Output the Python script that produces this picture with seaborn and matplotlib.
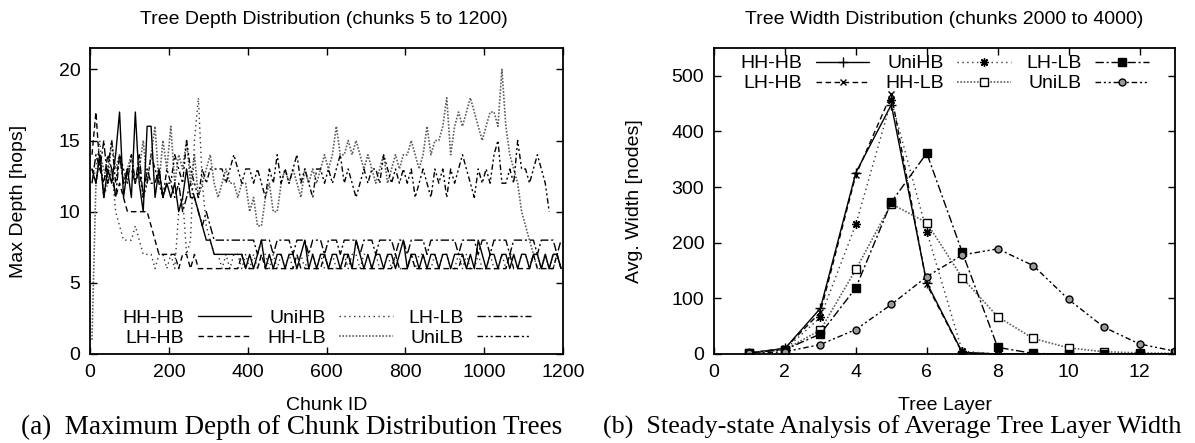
import numpy as np
import pandas as pd
import matplotlib
matplotlib.use("Agg")
import matplotlib.pyplot as plt
import seaborn as sns
from matplotlib.lines import Line2D

# ---------------- data: (a) maximum depth per chunk ----------------
chunk_ids = list(range(5, 1200, 10))

depth_hh_hb = [13, 12, 14, 11, 13, 12, 14, 17, 11, 13,
               11, 17, 12, 10, 16, 16, 11, 13, 11, 12,
               11, 12, 10, 11, 13, 11, 11, 10, 9, 8,
               8, 7, 7, 7, 7, 7, 7, 7, 7, 6,
               7, 6, 7, 8, 6, 7, 6, 7, 7, 6,
               7, 7, 6, 7, 8, 6, 7, 6, 7, 7,
               6, 7, 7, 6, 7, 7, 6, 8, 7, 6,
               7, 6, 7, 7, 6, 7, 7, 6, 7, 8,
               6, 7, 7, 6, 7, 6, 7, 7, 6, 7,
               7, 6, 7, 7, 7, 6, 7, 6, 8, 7,
               6, 7, 7, 6, 7, 7, 6, 7, 6, 7,
               7, 6, 7, 7, 6, 7, 6, 7, 7, 6]

depth_lh_hb = [14, 17, 13, 12, 14, 13, 11, 12, 11, 10,
               10, 10, 10, 10, 10, 9, 8, 7, 7, 7,
               7, 7, 6, 7, 7, 6, 7, 6, 6, 6,
               6, 6, 6, 6, 6, 6, 6, 6, 7, 6,
               6, 6, 6, 7, 6, 6, 6, 6, 6, 6,
               6, 6, 7, 6, 6, 6, 6, 6, 6, 7,
               6, 6, 6, 6, 6, 7, 6, 6, 6, 6,
               6, 6, 6, 6, 6, 6, 6, 7, 6, 6,
               6, 7, 6, 6, 6, 6, 6, 6, 6, 6,
               6, 6, 6, 6, 7, 6, 6, 6, 6, 6,
               6, 6, 6, 6, 6, 6, 7, 6, 6, 6,
               6, 6, 7, 6, 6, 6, 6, 6, 7, 6]

depth_unihb = [12, 13, 15, 11, 12, 13, 10, 9, 8, 8,
               8, 9, 8, 7, 7, 7, 6, 7, 7, 6,
               7, 6, 10, 11, 7, 8, 15, 18, 12, 9,
               8, 7, 7, 6, 7, 6, 7, 7, 6, 7,
               6, 7, 6, 7, 7, 6, 7, 6, 7, 6,
               7, 6, 6, 7, 6, 7, 7, 6, 7, 6,
               6, 7, 6, 6, 7, 6, 7, 7, 6, 7,
               7, 6, 7, 6, 6, 7, 6, 7, 6, 6,
               6, 7, 6, 7, 7, 6, 6, 7, 6, 7,
               7, 6, 6, 7, 6, 7, 6, 6, 7, 6,
               6, 7, 6, 6, 7, 6, 7, 7, 6, 7,
               7, 6, 7, 6, 6, 7, 6, 6, 7, 6]

depth_hh_lb = [1, 12, 14, 13, 12, 15, 13, 14, 12, 13,
               14, 12, 13, 15, 12, 14, 16, 12, 15, 13,
               16, 12, 14, 13, 15, 12, 14, 11, 12, 13,
               14, 12, 11, 12, 13, 12, 12, 11, 12, 12,
               10, 11, 9, 9, 11, 12, 10, 10, 12, 13,
               12, 13, 12, 11, 13, 12, 13, 12, 13, 14,
               13, 14, 16, 14, 14, 15, 14, 15, 14, 13,
               14, 13, 12, 13, 14, 12, 13, 14, 13, 14,
               14, 15, 14, 13, 14, 16, 14, 15, 15, 16,
               18, 14, 16, 17, 16, 17, 18, 17, 16, 15,
               16, 17, 17, 16, 20, 16, 14, 13, 12, 10,
               9, 8, 7, 7, 6, 7, 6, 7, 7, 6]

depth_lh_lb = [12, 14, 13, 15, 12, 13, 11, 14, 12, 13,
               13, 12, 14, 11, 13, 12, 12, 13, 11, 12,
               12, 11, 12, 10, 11, 12, 11, 10, 9, 10,
               9, 8, 8, 8, 8, 8, 8, 8, 8, 8,
               8, 8, 7, 8, 8, 8, 7, 8, 8, 8,
               8, 7, 8, 8, 8, 7, 8, 8, 8, 7,
               8, 8, 8, 7, 8, 8, 8, 8, 7, 8,
               8, 8, 7, 8, 8, 8, 8, 7, 8, 8,
               7, 8, 8, 8, 8, 7, 8, 8, 8, 8,
               8, 8, 8, 7, 8, 8, 8, 8, 7, 8,
               8, 7, 8, 8, 8, 8, 7, 8, 8, 8,
               8, 8, 8, 7, 8, 8, 8, 8, 7, 8]

depth_unilb = [13, 12, 14, 11, 13, 15, 12, 14, 13, 12,
               14, 12, 13, 11, 12, 14, 13, 12, 11, 13,
               12, 14, 13, 12, 15, 13, 12, 11, 13, 12,
               13, 13, 13, 13, 12, 13, 14, 13, 12, 13,
               13, 12, 13, 12, 11, 13, 12, 14, 12, 13,
               12, 13, 14, 12, 13, 12, 11, 13, 13, 12,
               13, 12, 13, 14, 12, 13, 12, 11, 12, 13,
               12, 13, 13, 12, 14, 13, 12, 13, 12, 13,
               12, 13, 11, 12, 13, 12, 11, 13, 12, 13,
               11, 13, 12, 13, 14, 13, 12, 11, 13, 12,
               13, 12, 14, 15, 12, 12, 13, 12, 15, 13,
               13, 12, 13, 14, 13, 12, 10, np.nan, np.nan, np.nan]

# ---------------- data: (b) average layer width ----------------
tree_layers = [1, 2, 3, 4, 5, 6, 7, 8, 9, 10, 11, 12, 13]
width_hh_hb = [2, 10, 82, 326, 448, 128, 3, 0, 0, 0, 0, 0, 0]
width_lh_hb = [2, 10, 75, 322, 467, 125, 2, 0, 0, 0, 0, 0, 0]
width_unihb = [2, 8, 66, 233, 456, 220, 5, 0, 0, 0, 0, 0, 0]
width_hh_lb = [2, 8, 43, 152, 270, 236, 137, 67, 28, 11, 4, 2, 1]
width_lh_lb = [2, 8, 36, 119, 273, 361, 183, 12, 1, 0, 0, 0, 0]
width_unilb = [1, 4, 17, 44, 89, 139, 178, 189, 159, 98, 48, 18, 5]

series_names = ["HH-HB", "LH-HB", "UniHB", "HH-LB", "LH-LB", "UniLB"]

# ---------------- styles ----------------
styles = {
    "HH-HB": dict(color="black", ls="-", lw=1.0, marker="+", ms=7, mfc="black"),
    "LH-HB": dict(color="black", ls=(0, (4, 2.5)), lw=1.0, marker="x", ms=5, mfc="black"),
    "UniHB": dict(color="#333333", ls=(0, (1, 2.5)), lw=1.0, marker=(8, 2, 0), ms=6, mfc="black"),
    "HH-LB": dict(color="#5e5e5e", ls=(0, (1, 1)), lw=1.2, marker="s", ms=6, mfc="white"),
    "LH-LB": dict(color="black", ls=(0, (6, 2, 1.5, 2)), lw=1.0, marker="s", ms=6, mfc="black"),
    "UniLB": dict(color="black", ls=(0, (4, 2, 1.5, 2, 1.5, 2)), lw=1.0, marker="o", ms=5, mfc="#9a9a9a"),
}

sns.set_theme(style="ticks")
plt.rcParams["font.family"] = ["Liberation Sans", "DejaVu Sans"]
plt.rcParams.update({
    "axes.linewidth": 1.3,
    "text.color": "black",
    "axes.labelcolor": "black",
    "xtick.color": "black",
    "ytick.color": "black",
    "axes.edgecolor": "black",
})

W, H = 1195, 443
fig = plt.figure(figsize=(W / 100, H / 100), dpi=100)

def px_axes(x0, x1, ytop, ybot):
    return fig.add_axes([x0 / W, 1 - ybot / H, (x1 - x0) / W, (ybot - ytop) / H])

ax1 = px_axes(90, 563, 48, 354)
ax2 = px_axes(714, 1175, 48, 354)

FS = 14
LEG = dict(ncol=3, markerfirst=False, frameon=False, fontsize=FS, handlelength=2.75,
           handletextpad=0.7, columnspacing=0.8, labelspacing=0.12)

# ---- (a) depth plot ----
depth_series = [depth_hh_hb, depth_lh_hb, depth_unihb, depth_hh_lb, depth_lh_lb, depth_unilb]
draw_order = ["HH-LB", "UniLB", "LH-LB", "UniHB", "LH-HB", "HH-HB"]
depth_map = dict(zip(series_names, depth_series))
for name in draw_order:
    st = styles[name]
    sns.lineplot(x=chunk_ids, y=depth_map[name], ax=ax1, color=st["color"],
                 linestyle=st["ls"], linewidth=st["lw"], estimator=None, legend=False)

ax1.set_xlim(0, 1200)
ax1.set_ylim(0, 21.5)
ax1.set_xticks(range(0, 1201, 200))
ax1.set_yticks(range(0, 21, 5))
ax1.set_xlabel("Chunk ID", fontsize=FS)
ax1.set_ylabel("Max Depth [hops]", fontsize=FS)

h1 = [Line2D([], [], color=styles[n]["color"], linestyle=styles[n]["ls"],
             linewidth=styles[n]["lw"]) for n in series_names]
ax1.legend(h1, series_names, loc="lower center", bbox_to_anchor=(0.5, -0.035), **LEG)

# ---- (b) width plot ----
width_series = [width_hh_hb, width_lh_hb, width_unihb, width_hh_lb, width_lh_lb, width_unilb]
h2 = []
for name, vals in zip(series_names, width_series):
    st = styles[name]
    sns.lineplot(x=tree_layers, y=vals, ax=ax2, color=st["color"], linestyle=st["ls"],
                 linewidth=st["lw"], marker=st["marker"], markersize=st["ms"],
                 markerfacecolor=st["mfc"], markeredgecolor="black", markeredgewidth=1.0,
                 estimator=None, legend=False)
    h2.append(Line2D([], [], color=st["color"], linestyle=st["ls"], linewidth=st["lw"],
                     marker=st["marker"], markersize=st["ms"], markerfacecolor=st["mfc"],
                     markeredgecolor="black", markeredgewidth=1.0, markevery=[1]))

ax2.set_xlim(0, 13)
ax2.set_ylim(0, 550)
ax2.set_xticks(range(0, 13, 2))
ax2.set_yticks(range(0, 501, 100))
ax2.set_xlabel("Tree Layer", fontsize=FS)
ax2.set_ylabel("Avg. Width [nodes]", fontsize=FS)
ax2.legend(h2, series_names, loc="upper center", bbox_to_anchor=(0.5, 1.035), **LEG)

for ax in (ax1, ax2):
    ax.tick_params(direction="in", top=True, right=True, length=5, width=1.0,
                   labelsize=FS, pad=7, color="black", labelcolor="black")
    for sp in ax.spines.values():
        sp.set_color("black")
    ax.xaxis.label.set_va("center")
    ax.yaxis.label.set_va("center")

ax1.xaxis.set_label_coords(0.5, (354 - 406) / 306)
ax2.xaxis.set_label_coords(0.5, (354 - 406) / 306)
ax1.yaxis.set_label_coords((19 - 90) / 473, 0.5)
ax2.yaxis.set_label_coords((634 - 714) / 461, 0.5)

fig.text(324 / W, 1 - 19 / H, "Tree Depth Distribution (chunks 5 to 1200)",
         ha="center", va="center", fontsize=FS)
fig.text(944 / W, 1 - 19 / H, "Tree Width Distribution (chunks 2000 to 4000)",
         ha="center", va="center", fontsize=FS)

serif = ["Liberation Serif", "DejaVu Serif"]
fig.text(292 / W, 1 - 427 / H, "(a)  Maximum Depth of Chunk Distribution Trees",
         ha="center", va="center", family=serif, fontsize=19.5)
fig.text(892 / W, 1 - 427 / H, "(b)  Steady-state Analysis of Average Tree Layer Width",
         ha="center", va="center", family=serif, fontsize=18.8)

fig.savefig("out.png", dpi=100)
